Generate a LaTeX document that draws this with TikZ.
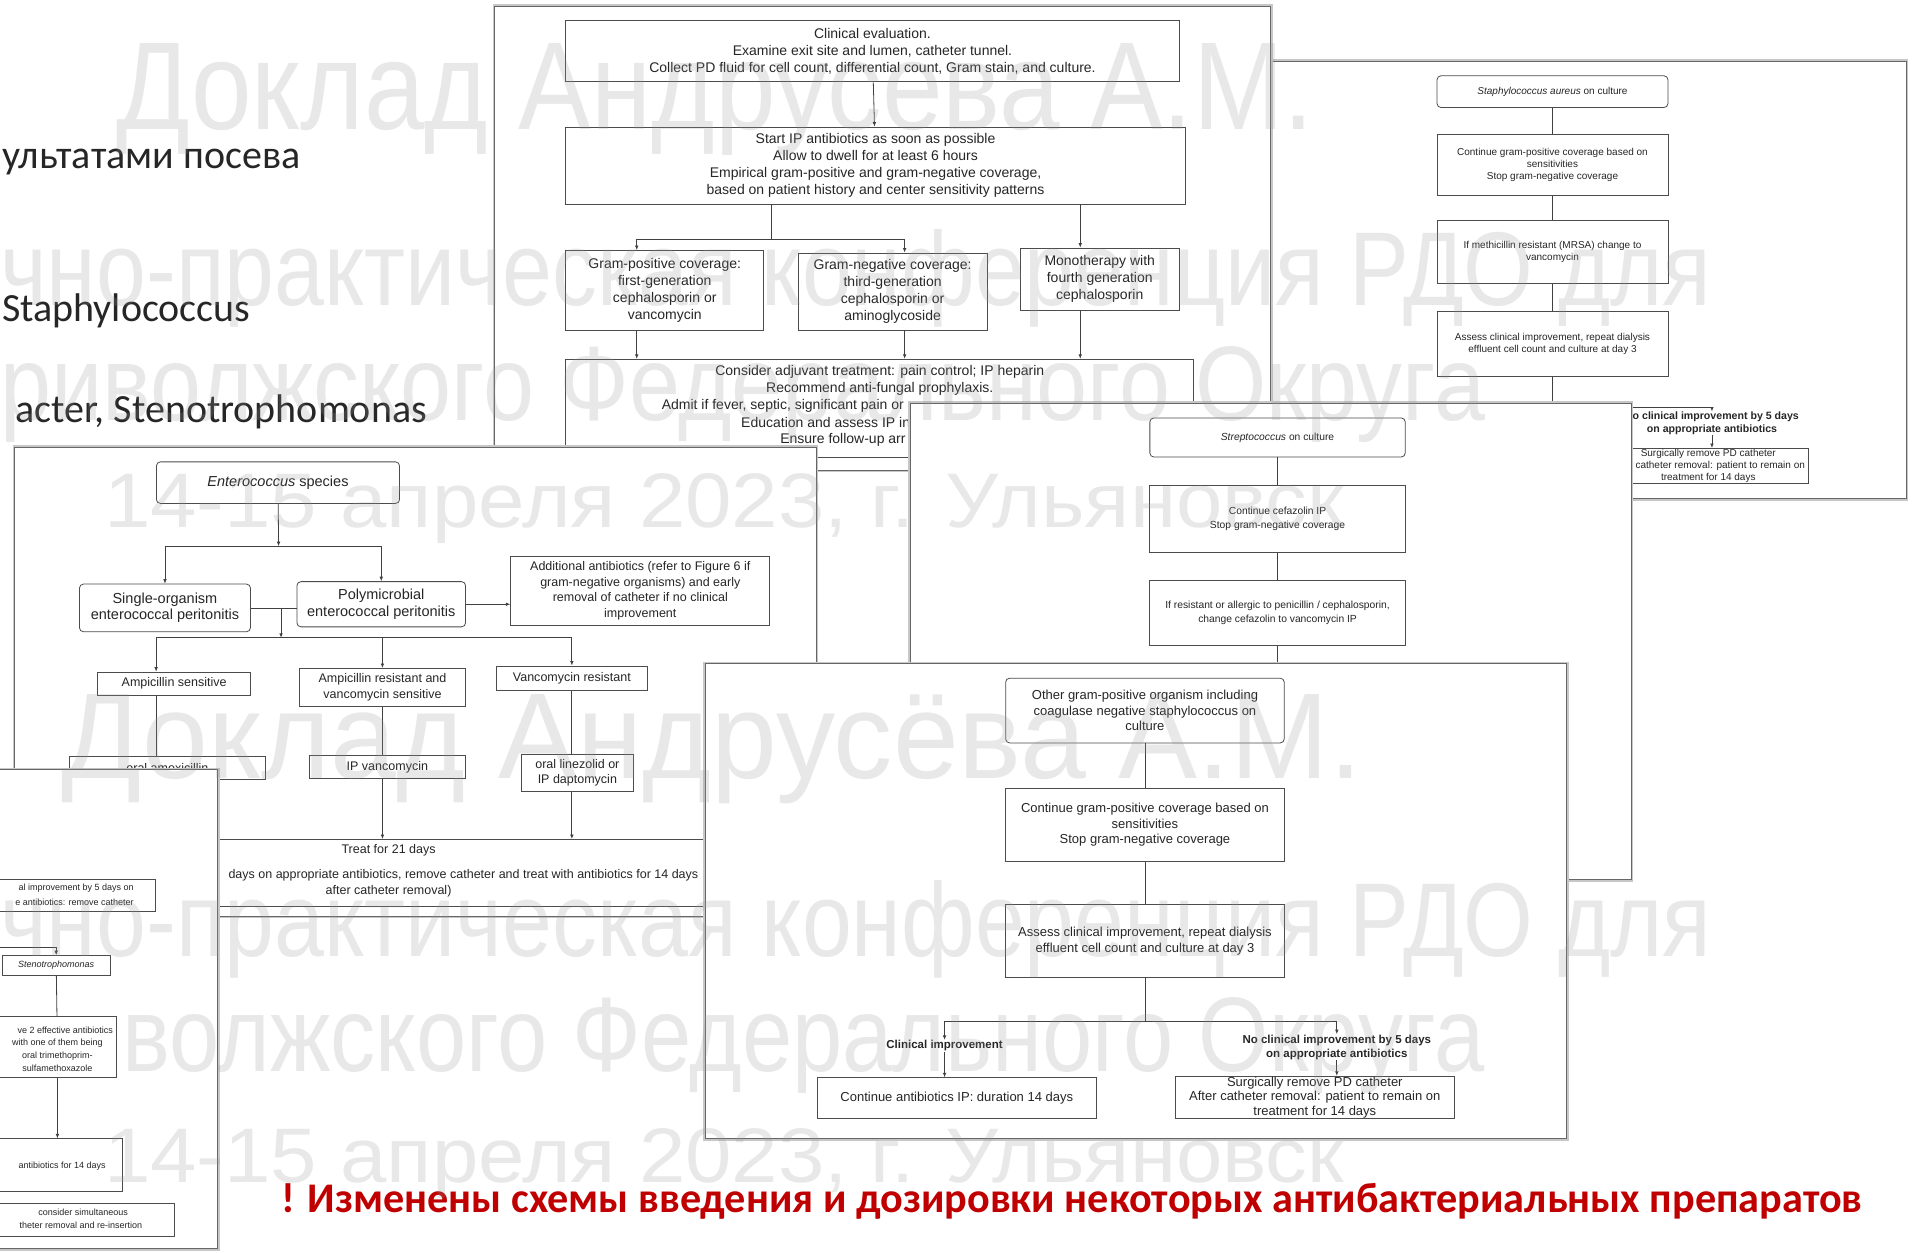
\documentclass[tikz,border=0pt]{standalone}
\usepackage{fontspec}
\usepackage{graphicx}
\setmainfont{Liberation Sans}
\newfontfamily\calib{Carlito}
\usetikzlibrary{arrows.meta}
\definecolor{slidered}{HTML}{C00000}
\definecolor{slidetext}{HTML}{262626}
% font sizes of the pasted figures
\newcommand\fA{\fontsize{14}{17}\selectfont}
\newcommand\fB{\fontsize{10}{12}\selectfont}
\newcommand\fC{\fontsize{10.3}{14.5}\selectfont}
\newcommand\fE{\fontsize{12.5}{15.5}\selectfont}
\newcommand\fEb{\fontsize{14.5}{16.5}\selectfont}
\newcommand\fF{\fontsize{9}{12.5}\selectfont}
\newcommand\fD{\fontsize{13}{15.5}\selectfont}
\tikzset{
  panel/.style={fill=white, draw=black!60, line width=0.9pt, preaction={draw=black!22, line width=4pt}},
  box/.style={draw=black!70, line width=0.8pt, fill=white, align=center, inner sep=0.5pt, text=black!85},
  rbox/.style={box, rounded corners=4pt},
  lab/.style={align=center, inner sep=0.5pt, text=black!85},
  wh/.style 2 args={minimum width=#1*1.2219pt, minimum height=#2*1.2219pt},
  con/.style={draw=black!75, line width=0.8pt},
  arr/.style={con, -{Latex[length=4.5pt, width=3.6pt]}},
  wmark/.style={text=black!40, text opacity=0.22, inner sep=0pt, anchor=base west, font=\fontsize{80}{80}\selectfont},
}
\begin{document}
\begin{tikzpicture}[x=1.2219pt, y=-1.2219pt]
\useasboundingbox (0,0) rectangle (1568,1025);
\clip (0,0) rectangle (1568,1025);
\fill[white] (0,0) rectangle (1568,1025);
% slide text on the left
\begin{scope}[every node/.style={anchor=base east, inner sep=0pt, text=slidetext, font=\calib\fontsize{40}{48}\selectfont}]
\node (t1) at (246,137.5) {ультатами посева};
\node (t2) at (205,263.5) {Staphylococcus};
\node (t3) at (349.5,346) {acter, Stenotrophomonas};
\end{scope}
% Staphylococcus aureus figure
\begin{scope}[font=\fB]
\draw[panel] (1030,50) rectangle (1560,408);
\node[rbox, wh={189}{26}] (b1) at (1270.5,75) {\textit{Staphylococcus aureus} on culture};
\node[box, wh={189}{50}] (b2) at (1270.5,135) {Continue gram-positive coverage based on\\sensitivities\\Stop gram-negative coverage};
\node[box, wh={189}{52}] (b3) at (1270.5,206) {If methicillin resistant (MRSA) change to\\vancomycin};
\node[box, wh={189}{53}] (b4) at (1270.5,281.5) {Assess clinical improvement, repeat dialysis\\effluent cell count and culture at day 3};
\node[lab, font=\fontsize{10.6}{12.5}\selectfont\bfseries] (b5) at (1401,346.5) {No clinical improvement by 5 days\\on appropriate antibiotics};
\node[box, wh={164}{29}] (b6) at (1398,381.5) {Surgically remove PD catheter\\After catheter removal: patient to remain on\\treatment for 14 days};
\coordinate (bj) at (1270.5,333);
\draw[con] (b1) -- (b2);
\draw[con] (b2) -- (b3);
\draw[con] (b3) -- (b4);
\draw[con] (b4) -- (bj);
\draw[arr] (bj) -| (b5);
\draw[arr] (b5) -- (b5 |- b6.north);
\end{scope}
% main algorithm figure
\begin{scope}[font=\fA]
\draw[panel] (405,5) rectangle (1040,385);
\node[box, wh={502}{50}] (a1) at (714,42) {Clinical evaluation.\\Examine exit site and lumen, catheter tunnel.\\Collect PD fluid for cell count, differential count, Gram stain, and culture.};
\node[box, wh={507}{63}] (a2) at (716.5,135.5) {Start IP antibiotics as soon as possible\\Allow to dwell for at least 6 hours\\Empirical gram-positive and gram-negative coverage,\\based on patient history and center sensitivity patterns};
\node[box, wh={162}{65}] (a3) at (544,237.5) {Gram-positive coverage:\\first-generation\\cephalosporin or\\vancomycin};
\node[box, wh={155}{63}] (a4) at (730.5,238.5) {Gram-negative coverage:\\third-generation\\cephalosporin or\\aminoglycoside};
\node[box, wh={130}{51}] (a5) at (900,228.5) {Monotherapy with\\fourth generation\\cephalosporin};
\node[box, wh={514}{80}] (a6) at (720,334) {};
\node[lab] (a6t1) at (720,304) {Consider adjuvant treatment: pain control; IP heparin};
\node[lab] (a6t2) at (720,318) {Recommend anti-fungal prophylaxis.};
\node[lab, anchor=west] (a6t3) at (541,332) {Admit if fever, septic, significant pain or};
\node[lab, anchor=west] (a6t4) at (606,346) {Education and assess IP in};
\node[lab, anchor=west] (a6t5) at (638,360) {Ensure follow-up arr};
\coordinate (aj) at (631,196);
\draw[arr] (a1) -- (a2);
\draw[con] (a2.south -| aj) -- (aj);
\draw[arr] (aj) -| ([xshift=-28pt]a3.north);
\draw[arr] (aj) -| ([xshift=12pt]a4.north);
\draw[arr] ([xshift=-19.5pt]a5.north |- a2.south) -- ([xshift=-19.5pt]a5.north);
\draw[arr] ([xshift=-28pt]a3.south) -- ([xshift=-28pt]a3.south |- a6.north);
\draw[arr] ([xshift=12pt]a4.south) -- ([xshift=12pt]a4.south |- a6.north);
\draw[arr] ([xshift=-19.5pt]a5.south) -- ([xshift=-19.5pt]a5.south |- a6.north);
\end{scope}
% Streptococcus figure
\begin{scope}[font=\fC]
\draw[panel] (745,330) rectangle (1335,720);
\node[rbox, wh={209}{32}] (c1) at (1045.5,358) {\textit{Streptococcus} on culture};
\node[box, wh={209}{55}] (c2) at (1045.5,424.5) {Continue cefazolin IP\\Stop gram-negative coverage};
\node[box, wh={209}{53}] (c3) at (1045.5,501.5) {If resistant or allergic to penicillin / cephalosporin,\\change cefazolin to vancomycin IP};
\coordinate (cj) at (1045.5,560);
\draw[con] (c1) -- (c2);
\draw[con] (c2) -- (c3);
\draw[con] (c3) -- (cj);
\end{scope}
% Enterococcus figure
\begin{scope}[font=\fE]
\draw[panel] (12,366) rectangle (668,750);
\node[rbox, wh={199}{34}, font=\fEb] (e1) at (227.5,395) {\textit{Enterococcus} species};
\node[rbox, wh={140}{39}, font=\fEb] (e2) at (135,497.5) {Single-organism\\enterococcal peritonitis};
\node[rbox, wh={138}{37}, font=\fEb] (e3) at (312,494.5) {Polymicrobial\\enterococcal peritonitis};
\node[box, wh={212}{57}] (e4) at (524,483.5) {Additional antibiotics (refer to Figure 6 if\\gram-negative organisms) and early\\removal of catheter if no clinical\\improvement};
\node[box, wh={125}{19}] (e5) at (142.5,559.5) {Ampicillin sensitive};
\node[box, wh={136}{31}] (e6) at (313,562.5) {Ampicillin resistant and\\vancomycin sensitive};
\node[box, wh={124}{20}] (e7) at (468,555) {Vancomycin resistant};
\node[box, wh={160}{19}] (e8) at (137,628.5) {oral amoxicillin};
\node[box, wh={128}{19}] (e9) at (317,627.5) {IP vancomycin};
\node[box, wh={91}{31}] (e10) at (472.5,632.5) {oral linezolid or\\IP daptomycin};
\node[box, wh={560}{55}] (e11) at (320,714.5) {};
\node[lab] (e11t1) at (318,696) {Treat for 21 days};
\node[lab, anchor=east] (e11t2) at (572,716) {days on appropriate antibiotics, remove catheter and treat with antibiotics for 14 days};
\node[lab] (e11t3) at (318,729) {after catheter removal)};
\coordinate (ej1) at (228,447);
\coordinate (ej2) at (230,522);
\draw[arr] (e1) -- (ej1);
\draw[arr] (ej1) -| (e2);
\draw[arr] (ej1) -| (e3);
\draw[arr] (e3.east) -- (e3.east -| e4.west);
\draw[con] (e2.east) -- (e2.east -| e3.west);
\draw[arr] (e2.east -| ej2) -- (ej2);
\draw[arr] (ej2) -| ([xshift=-18pt]e5.north);
\draw[arr] (ej2) -| (e6);
\draw[arr] (ej2) -| (e7);
\draw[con] ([xshift=-18pt]e5.south) -- ([xshift=-18pt]e5.south |- e8.north);
\draw[con] (e6) -- (e6 |- e9.north);
\draw[con] (e7) -- (e7 |- e10.north);
\draw[arr] (e6 |- e9.south) -- (e6 |- e11.north);
\draw[arr] (e7 |- e10.south) -- (e7 |- e11.north);
\end{scope}
% Stenotrophomonas figure
\begin{scope}[font=\fF]
\draw[panel] (-10,630) rectangle (178,1022);
\node[box, wh={230}{26}] (f1) at (12,733) {};
\node[lab, anchor=east] (f1t1) at (110,727) {al improvement by 5 days on};
\node[lab, anchor=east] (f1t2) at (110,738) {e antibiotics: remove catheter};
\node[box, wh={88}{16}] (f2) at (46,790) {\textit{Stenotrophomonas}};
\node[box, wh={96}{50}] (f3) at (47,857) {};
\node[lab, anchor=east] (f3t1) at (93,843) {ve 2 effective antibiotics};
\node[lab] (f3t2) at (47,854) {with one of them being};
\node[lab] (f3t3) at (47,864) {oral trimethoprim-};
\node[lab] (f3t4) at (47,874) {sulfamethoxazole};
\node[box, wh={110}{43}] (f4) at (45,953.5) {};
\node[lab, anchor=east] (f4t1) at (87,954) {antibiotics for 14 days};
\node[box, wh={152}{27}] (f5) at (67,998.5) {};
\node[lab] (f5t1) at (68,992) {consider simultaneous};
\node[lab, anchor=east] (f5t2) at (117,1003) {theter removal and re-insertion};
\coordinate (fj) at (-5,775);
\draw[arr] (fj) -| (f2);
\draw[con] (f2) -- (f3);
\draw[arr] (f3) -- (f3 |- f4.north);
\end{scope}
% other gram-positive figure
\begin{scope}[font=\fD]
\draw[panel] (577,543) rectangle (1282,932);
\node[rbox, wh={228}{53}] (d1) at (937,581.5) {Other gram-positive organism including\\coagulase negative staphylococcus on\\culture};
\node[box, wh={228}{60}] (d2) at (937,675) {Continue gram-positive coverage based on\\sensitivities\\Stop gram-negative coverage};
\node[box, wh={228}{60}] (d3) at (937,770) {Assess clinical improvement, repeat dialysis\\effluent cell count and culture at day 3};
\node[lab, font=\fontsize{11.5}{14}\selectfont\bfseries] (d4l) at (773,856) {Clinical improvement};
\node[lab, font=\fontsize{11.5}{14}\selectfont\bfseries] (d5l) at (1094,857) {No clinical improvement by 5 days\\on appropriate antibiotics};
\node[box, wh={228}{33}] (d4) at (783,898.5) {Continue antibiotics IP: duration 14 days};
\node[box, wh={228}{34}, font=\fontsize{13}{14.5}\selectfont] (d5) at (1076,898) {Surgically remove PD catheter\\After catheter removal: patient to remain on\\treatment for 14 days};
\coordinate (dj) at (937,836);
\draw[con] (d1) -- (d2);
\draw[con] (d2) -- (d3);
\draw[con] (d3) -- (dj);
\draw[arr] (dj) -| (d4l);
\draw[arr] (dj) -| (d5l);
\draw[arr] (d4l) -- (d4l |- d4.north);
\draw[arr] (d5l) -- (d5l |- d5.north);
\end{scope}
% red note
\node[anchor=base west, inner sep=0pt, text=slidered, font=\calib\bfseries\fontsize{42.2}{50}\selectfont] (note) at (230,992) {! Изменены схемы введения и дозировки некоторых антибактериальных препаратов};
% watermark
\begin{scope}[every node/.style={wmark}]
\node (w1) at (95,106) {\resizebox{1198pt}{86pt}{Доклад Андрусева А.М.}};
\node (w2) at (0,250) {\resizebox{1711pt}{76pt}{чно-практическая конференция РДО для}};
\node (w3) at (0,344) {\resizebox{1485pt}{74pt}{риволжского Федерального Округа}};
\node (w4) at (85,432) {\resizebox{1240pt}{54pt}{14-15 апреля 2023, г. Ульяновск}};
\node (w5) at (50,637) {\resizebox{1301pt}{84pt}{Доклад Андрусёва А.М.}};
\node (w6) at (0,783) {\resizebox{1711pt}{76pt}{чно-практическая конференция РДО для}};
\node (w7) at (100,877) {\resizebox{1362pt}{74pt}{волжского Федерального Округа}};
\node (w8) at (85,968) {\resizebox{1240pt}{54pt}{14-15 апреля 2023, г. Ульяновск}};
\end{scope}
\end{tikzpicture}
\end{document}
